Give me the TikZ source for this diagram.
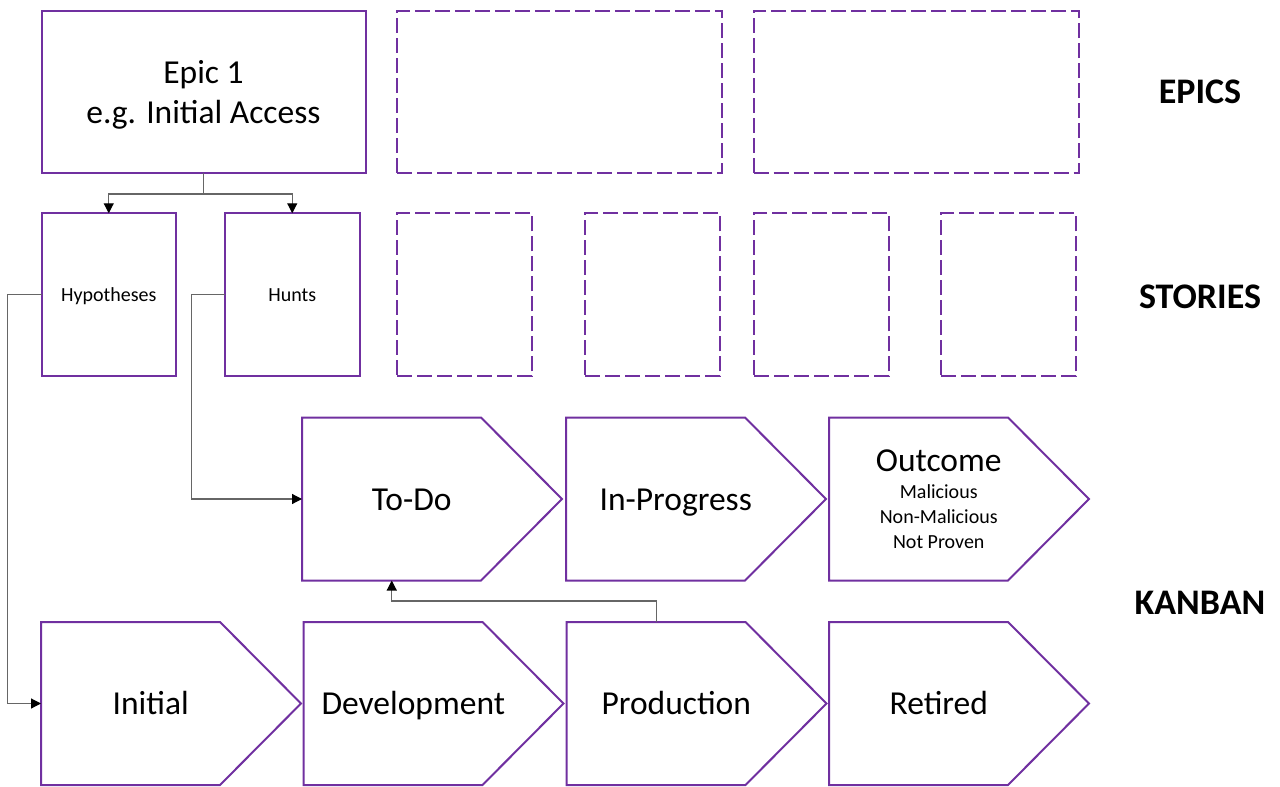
\documentclass[tikz,border=0pt]{standalone}
\usepackage{fontspec}
\setmainfont{Carlito}
\usepackage{tikz}
\usetikzlibrary{arrows.meta,positioning,calc}
\usepackage{xcolor}
\definecolor{epurple}{HTML}{7030A0}

\begin{document}
\begin{tikzpicture}[x=0.5pt, y=-0.5pt,
    box/.style={draw=epurple, line width=1pt, minimum height=81.5pt, inner sep=0pt, outer sep=0pt},
    dbox/.style={box, dash pattern=on 7.5pt off 2.5pt},
    lane/.style={minimum width=109.75pt, minimum height=81.5pt, inner sep=0pt, outer sep=0pt},
    chev/.style={draw=epurple, line width=1pt},
    conn/.style={draw=black!60, line width=0.6pt, -{Triangle[length=5pt, width=5pt, color=black]}},
    bigtxt/.style={font=\fontsize{16.75}{20}\selectfont},
    smalltxt/.style={font=\fontsize{10}{12.5}\selectfont},
    headtxt/.style={font=\fontsize{18}{22}\selectfont\bfseries}]
    \useasboundingbox (0,0) rectangle (1280,787);

    % Epics
    \node[box, minimum width=162pt, minimum height=81.25pt, align=center, bigtxt, text depth=0pt] (epic) at (203.5,91.75) {Epic 1\\e.g. Initial Access};
    \foreach \nm/\x in {epicb/559.5, epicc/916} {
        \node[dbox, minimum width=162.5pt, minimum height=81.25pt] (\nm) at (\x,91.75) {};
    }

    % Stories
    \node[box, minimum width=67.25pt, smalltxt, text height=6.5pt, text depth=0pt] (hyp) at (108.75,294.75) {Hypotheses};
    \node[box, minimum width=67.25pt, smalltxt, text height=6.5pt, text depth=0pt] (hunts) at (292.25,294.75) {Hunts};
    \foreach \nm/\x in {storyc/464.5, storyd/652.5, storye/821.5, storyf/1008.5} {
        \node[dbox, minimum width=67.5pt] (\nm) at (\x,294.75) {};
    }

    % Kanban
    \foreach \nm/\x/\y/\txt in {todo/302/499/To-Do, inprog/566/499/In-Progress, initial/41/703.5/Initial, dev/303.5/703.5/Development, prod/566.5/703.5/Production, retired/829/703.5/Retired} {
        \node[lane, bigtxt, text height=11pt, text depth=0pt] (\nm) at (\x+109.75,\y) {\txt};
        \draw[chev] (\nm.north west) -- ([xshift=-20.25pt]\nm.north east) -- ([xshift=20.25pt]\nm.east)
            -- ([xshift=-20.25pt]\nm.south east) -- (\nm.south west) -- cycle;
    }
    \node[lane, smalltxt, align=center] (outcome) at (938.75,499) {{\fontsize{16.75}{20}\selectfont Outcome}\\[1.25pt]Malicious\\Non-Malicious\\Not Proven};
    \draw[chev] (outcome.north west) -- ([xshift=-20.25pt]outcome.north east) -- ([xshift=20.25pt]outcome.east)
        -- ([xshift=-20.25pt]outcome.south east) -- (outcome.south west) -- cycle;

    % Row labels
    \node[headtxt] (lblepics) at (1200,92) {EPICS};
    \node[headtxt] (lblstories) at (1200,297) {STORIES};
    \node[headtxt] (lblkanban) at (1200,603) {KANBAN};

    % Connectors
    \draw[conn] (epic.south) -- ++(0,21) -| (hyp.north);
    \draw[conn] (epic.south) -- ++(0,21) -| (hunts.north);
    \draw[conn] (hyp.west) -- ++(-34,0) |- (initial.west);
    \draw[conn] (hunts.west) -- ++(-33.5,0) |- (todo.west);
    \draw[conn] ([xshift=-10pt]prod.north) -- ++(0,-21) -| ([xshift=-10pt]todo.south);
\end{tikzpicture}
\end{document}
